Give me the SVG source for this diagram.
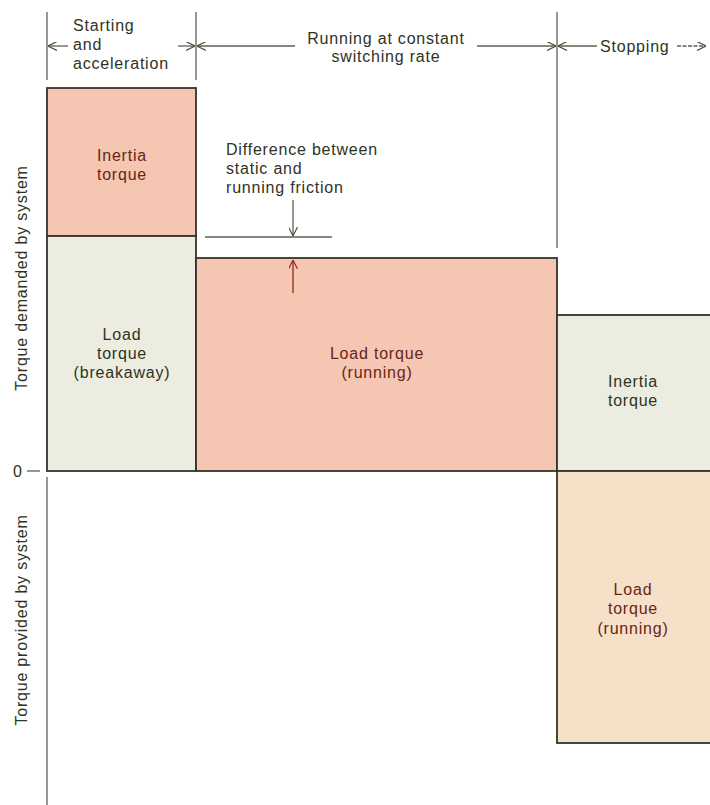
<svg xmlns="http://www.w3.org/2000/svg" width="710" height="805" viewBox="0 0 710 805">
<defs>
<style>
text{font-family:"Liberation Sans","Open Sans",sans-serif;font-size:16px;letter-spacing:0.8px;fill:#2e3324}
.red{fill:#6a2416}
.mid{text-anchor:middle}
.box{stroke:#34352a;stroke-width:1.8}
.pink{fill:#f5c6b1}
.green{fill:#ecede0}
.peach{fill:#f6e0c8}
.dim{stroke:#5c6250;stroke-width:1.3;fill:none}
</style>
<marker id="ah" viewBox="0 0 10 10" refX="10" refY="5" markerWidth="9" markerHeight="9" orient="auto" markerUnits="userSpaceOnUse">
<path d="M0,0 L10,5 L0,10" fill="none" stroke="#4a4f3e" stroke-width="1.3"/>
</marker>
<marker id="ahr" viewBox="0 0 10 10" refX="10" refY="5" markerWidth="9" markerHeight="9" orient="auto" markerUnits="userSpaceOnUse">
<path d="M0,0 L10,5 L0,10" fill="none" stroke="#8a2a1a" stroke-width="1.3"/>
</marker>
</defs>
<rect width="710" height="805" fill="#ffffff"/>

<g id="header">
<line class="dim" x1="47" y1="12" x2="47" y2="80"/>
<line class="dim" x1="196" y1="12" x2="196" y2="80"/>
<line class="dim" x1="557" y1="12" x2="557" y2="248"/>
<text x="73" y="31">Starting</text>
<text x="73" y="50">and</text>
<text x="73" y="69">acceleration</text>
<text x="386" y="44" class="mid">Running at constant</text>
<text x="386" y="62" class="mid">switching rate</text>
<text x="600" y="52">Stopping</text>
</g>

<g id="inertia-start">
<rect class="box pink" x="47" y="88" width="149" height="148"/>
<text class="red mid" x="122" y="161">Inertia</text>
<text class="red mid" x="122" y="180">torque</text>
</g>

<g id="load-breakaway">
<rect class="box green" x="47" y="236" width="149" height="235"/>
<text class="mid" x="122" y="340">Load</text>
<text class="mid" x="122" y="359">torque</text>
<text class="mid" x="122" y="378">(breakaway)</text>
</g>

<g id="load-running">
<rect class="box pink" x="196" y="258" width="361" height="213"/>
<text class="red mid" x="377" y="359">Load torque</text>
<text class="red mid" x="377" y="378">(running)</text>
</g>

<g id="friction-label">
<text x="226" y="155">Difference between</text>
<text x="226" y="174">static and</text>
<text x="226" y="193">running friction</text>
</g>

<g id="inertia-stop">
<rect class="box green" x="557" y="315" width="160" height="156"/>
<text class="mid" x="633" y="387">Inertia</text>
<text class="mid" x="633" y="406">torque</text>
</g>

<g id="load-stop">
<rect class="box peach" x="557" y="471" width="160" height="272"/>
<text class="red mid" x="633" y="595">Load</text>
<text class="red mid" x="633" y="614">torque</text>
<text class="red mid" x="633" y="634">(running)</text>
</g>

<g id="axis-labels">
<text x="13" y="477">0</text>
<text class="mid" transform="translate(27,278) rotate(-90)">Torque demanded by system</text>
<text class="mid" transform="translate(27,620) rotate(-90)">Torque provided by system</text>
</g>

<g id="connectors">
<line class="dim" x1="68" y1="46" x2="48" y2="46" marker-end="url(#ah)"/>
<line class="dim" x1="178" y1="46" x2="195" y2="46" marker-end="url(#ah)"/>
<line class="dim" x1="295" y1="46" x2="197" y2="46" marker-end="url(#ah)"/>
<line class="dim" x1="477" y1="46" x2="556" y2="46" marker-end="url(#ah)"/>
<line class="dim" x1="597" y1="46" x2="558" y2="46" marker-end="url(#ah)"/>
<line class="dim" x1="677" y1="46" x2="706" y2="46" stroke-dasharray="4 1.5" marker-end="url(#ah)"/>
<line class="dim" x1="205" y1="237" x2="332" y2="237"/>
<line class="dim" x1="293" y1="200" x2="293" y2="236" marker-end="url(#ah)"/>
<line x1="293" y1="293" x2="293" y2="260" stroke="#8a2a1a" stroke-width="1.3" marker-end="url(#ahr)"/>
<line class="dim" x1="47" y1="477" x2="47" y2="805"/>
<line class="dim" x1="27" y1="471" x2="40" y2="471"/>
</g>
</svg>
